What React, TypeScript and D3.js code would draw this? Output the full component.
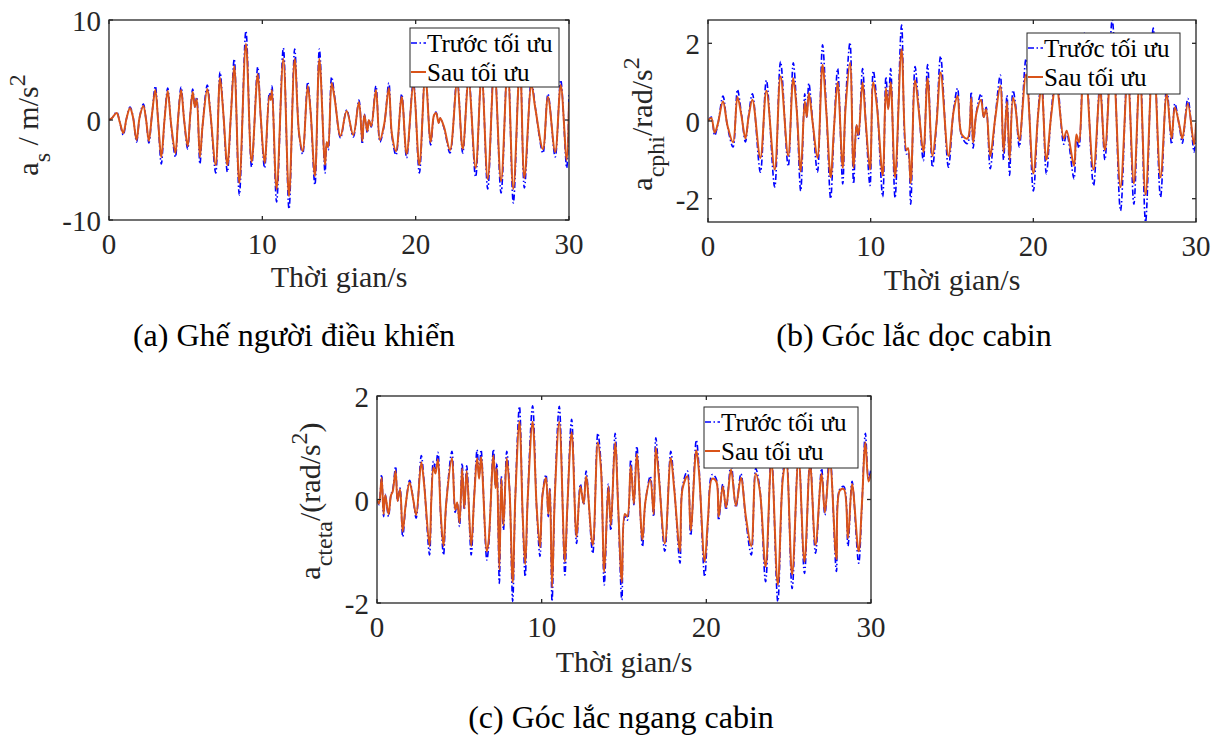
import React, { useEffect, useRef } from 'react';
import * as d3 from 'd3';

const FONT = "'Liberation Serif', 'DejaVu Serif', serif";
const BLUE = '#0000ff';
const ORANGE = '#d95319';
const AXIS = '#262626';

const xTicks = [0, 10, 20, 30];
const legendLabels = ['Trước tối ưu', 'Sau tối ưu'];
const xLabel = 'Thời gian/s';

// (a) driver seat acceleration, extrema
const timeA = [0, 0.2, 0.5, 0.7, 0.93, 1.15, 1.37, 1.55, 1.8, 2.0, 2.24, 2.42, 2.6, 2.8, 3.02, 3.2, 3.41, 3.62, 3.83, 4.05,
  4.33, 4.5, 4.7, 4.9, 5.13, 5.3, 5.46, 5.6, 5.72, 5.93, 6.1, 6.41, 6.6, 6.96, 7.24, 7.45, 7.72, 7.95, 8.17, 8.5,
  8.93, 9.3, 9.7, 9.9, 10.15, 10.46, 10.55, 10.63, 10.93, 11.37, 11.74, 12.11, 12.4, 12.63, 12.96, 13.15, 13.43, 13.72, 14.09, 14.2,
  14.3, 14.52, 14.72, 15.1, 15.5, 15.93, 16.3, 16.52, 16.65, 16.85, 16.95, 17.1, 17.41, 17.67, 17.95, 18.25, 18.45, 18.72, 19.09, 19.41,
  19.85, 20.24, 20.63, 20.98, 21.2, 21.33, 21.5, 21.6, 21.85, 22.24, 22.7, 23.07, 23.45, 23.91, 24.3, 24.7, 25.13, 25.57, 26.0, 26.37,
  26.8, 27.09, 27.55, 27.8, 28.3, 28.63, 29.1, 29.46, 29.85, 30];
const beforeA = [0, 0.2, 0.8, -0.2, -1.5, 0.2, 1.3, 0.5, -2.2, 0.3, 1.6, 0.0, -2.3, 0.5, 3.4, 0.0, -4.4, 0.0, 3.2, -0.5,
  -3.7, 0.0, 3.3, 0.0, -2.9, 0.5, 3.1, 1.3, 2.3, -4.4, -0.6, 3.5, 1.0, -5.3, 4.8, 0.8, -5.2, 0.5, 6.1, -7.5,
  8.9, -4.7, 5.3, 0.2, -4.8, 2.7, 2.2, 3.4, -8.2, 7.2, -8.9, 7.1, -1.5, -3.4, 3.8, 0.8, -6.5, 7.1, -5.3, -2.3,
  -3.0, 4.3, 2.3, -1.8, 1.0, -1.7, 2.0, -2.4, 0.6, -1.3, 0.0, -0.7, 3.4, -2.2, -0.5, 3.7, -1.6, -3.5, 2.6, -3.8,
  3.8, -5.3, 5.0, -2.5, 0.5, 0.8, -0.3, 0.2, -0.8, -3.3, 4.2, -3.3, 4.5, -5.7, 5.2, -6.9, 6.0, -7.3, 6.2, -8.3,
  6.5, -6.8, 4.0, 1.3, -3.3, 2.6, -3.7, 4.0, -4.8, 2.6];
const afterA = [0, 0.2, 0.7, -0.2, -1.3, 0.2, 1.2, 0.4, -2.0, 0.3, 1.4, 0.0, -2.1, 0.5, 3.0, 0.0, -3.7, 0.0, 2.9, -0.4,
  -3.3, 0.0, 3.0, 0.0, -2.6, 0.5, 2.8, 1.3, 2.1, -3.7, -0.6, 3.1, 0.9, -4.5, 4.2, 0.8, -4.5, 0.5, 5.4, -6.3,
  7.6, -4.2, 4.6, 0.2, -4.3, 2.4, 2.0, 3.0, -6.9, 6.1, -7.6, 6.1, -1.4, -3.1, 3.4, 0.8, -5.6, 6.1, -4.5, -2.2,
  -2.7, 3.7, 2.1, -1.6, 0.9, -1.5, 1.8, -2.1, 0.5, -1.1, 0.0, -0.6, 3.0, -2.0, -0.4, 3.2, -1.4, -3.1, 2.3, -3.4,
  3.4, -4.5, 4.4, -2.2, 0.5, 0.7, -0.3, 0.2, -0.7, -3.0, 3.7, -2.9, 3.9, -4.8, 4.5, -5.9, 5.2, -6.1, 5.3, -6.9,
  5.5, -5.8, 3.5, 1.2, -2.9, 2.3, -3.2, 3.5, -4.0, 1.8];

// (b) cabin pitch acceleration
const timeB = [0, 0.2, 0.41, 0.6, 0.92, 1.2, 1.54, 1.81, 2.05, 2.3, 2.5, 2.73, 3.22, 3.59, 4.1, 4.46, 4.93, 5.24, 5.45, 5.7,
  5.95, 6.07, 6.2, 6.45, 6.73, 7.04, 7.28, 7.54, 7.75, 7.97, 8.28, 8.45, 8.73, 8.95, 9.13, 9.25, 9.5, 9.7, 9.96, 10.16,
  10.38, 10.74, 10.94, 11.08, 11.23, 11.5, 11.9, 12.2, 12.3, 12.46, 12.73, 12.95, 13.24, 13.5, 13.8, 14.05, 14.3, 14.78, 15.1, 15.34,
  15.6, 15.95, 16.18, 16.3, 16.5, 16.78, 16.95, 17.1, 17.35, 17.65, 17.97, 18.17, 18.38, 18.54, 18.75, 18.9, 19.14, 19.55, 20.0, 20.3,
  20.5, 20.8, 21.1, 21.4, 21.87, 22.05, 22.5, 22.65, 22.8, 23.14, 23.7, 24.1, 24.4, 24.85, 25.36, 25.8, 26.18, 26.55, 26.9, 27.37,
  27.82, 28.2, 28.5, 28.7, 29.0, 29.16, 29.5, 29.88, 30];
const beforeB = [0, 0.1, -0.37, -0.1, 0.64, -0.15, -0.67, 0.81, 0.2, -0.54, 0.15, 0.7, -1.32, 1.05, -1.7, 1.53, -1.17, 1.5, 0.36, -1.8,
  0.7, 0.1, 0.97, -0.1, -1.32, 1.96, 0.25, -2.0, -0.2, 1.35, -1.62, 0.4, 2.02, -1.62, -0.1, -0.45, 1.35, -0.05, -1.66, 1.29,
  0.5, -1.95, 1.14, 0.35, 1.35, -1.98, 2.47, -0.85, -0.8, -2.14, 1.4, 0.4, -1.02, 1.45, -1.19, -0.05, 1.67, -1.19, 0.3, 0.84,
  -0.4, -0.58, 0.75, -0.7, 0.23, 0.7, 0.1, 0.35, -1.23, 0.06, 1.18, -1.0, 0.66, -1.4, 0.79, 0.45, -0.67, 1.6, -1.8, 0.25,
  1.2, -1.36, 0.2, 1.3, -0.6, -0.3, -1.49, -0.45, -0.7, 2.26, -1.66, 1.0, -1.0, 2.6, -2.31, 1.5, -2.14, 1.6, -2.6, 2.39,
  -1.96, 0.9, -0.6, 0.45, -0.2, -0.57, 0.58, -0.8, -0.07];
const afterB = [0, 0.08, -0.3, -0.08, 0.5, -0.12, -0.55, 0.62, 0.15, -0.45, 0.12, 0.55, -0.95, 0.78, -1.25, 1.15, -0.9, 1.1, 0.3, -1.3,
  0.5, 0.1, 0.72, -0.1, -0.95, 1.45, 0.2, -1.45, -0.15, 1.0, -1.2, 0.3, 1.5, -1.2, -0.1, -0.35, 1.0, -0.05, -1.25, 1.0,
  0.4, -1.4, 0.85, 0.3, 1.0, -1.45, 1.85, -0.75, -0.7, -1.6, 1.05, 0.3, -0.8, 1.1, -0.9, -0.05, 1.25, -0.9, 0.25, 0.65,
  -0.35, -0.45, 0.6, -0.55, 0.2, 0.55, 0.1, 0.3, -0.9, 0.05, 0.9, -0.8, 0.5, -1.0, 0.6, 0.35, -0.5, 1.2, -1.35, 0.2,
  0.9, -1.0, 0.15, 1.0, -0.45, -0.25, -1.15, -0.35, -0.55, 1.7, -1.25, 0.8, -0.75, 1.95, -1.7, 1.15, -1.6, 1.2, -1.9, 1.8,
  -1.45, 0.7, -0.45, 0.35, -0.15, -0.45, 0.45, -0.6, -0.05];

// (c) cabin roll acceleration
const timeC = [0, 0.12, 0.28, 0.4, 0.5, 0.7, 0.85, 0.95, 1.13, 1.25, 1.4, 1.56, 1.75, 1.98, 2.2, 2.38, 2.69, 2.85, 3.19, 3.3,
  3.43, 3.55, 3.7, 3.87, 4.04, 4.2, 4.55, 4.75, 4.87, 5.01, 5.17, 5.3, 5.45, 5.72, 5.9, 6.08, 6.2, 6.32, 6.67, 6.78,
  7.07, 7.2, 7.28, 7.43, 7.55, 7.68, 7.88, 8.05, 8.24, 8.4, 8.65, 8.85, 9.0, 9.15, 9.45, 9.7, 9.9, 10.05, 10.26, 10.4,
  10.5, 10.63, 10.8, 11.07, 11.41, 11.55, 11.82, 12.12, 12.35, 12.55, 12.7, 13.1, 13.41, 13.6, 13.8, 14.05, 14.2, 14.46, 14.65, 14.87,
  15.05, 15.2, 15.41, 15.6, 15.78, 16.12, 16.3, 16.6, 16.8, 16.93, 17.1, 17.48, 17.84, 18.05, 18.4, 18.55, 18.85, 19.05, 19.39, 19.55,
  19.9, 20.1, 20.35, 20.6, 20.75, 21.0, 21.2, 21.5, 21.8, 22.1, 22.4, 22.73, 23.0, 23.25, 23.6, 23.95, 24.34, 24.65, 24.85, 25.21,
  25.6, 25.96, 26.3, 26.63, 27.0, 27.2, 27.5, 27.9, 28.1, 28.35, 28.6, 28.85, 29.25, 29.45, 29.66, 29.85, 30];
const beforeC = [0, -0.1, 0.48, -0.33, 0.1, -0.33, 0.1, 0.18, 0.64, -0.03, 0.22, -0.72, -0.1, 0.37, 0.0, -0.36, 0.85, 0.38, -1.07, 0.0,
  0.74, 0.6, 0.91, -0.33, -1.07, -0.1, 0.93, -0.25, -0.07, -0.52, 0.7, -0.2, 0.65, -1.07, 0.05, 0.96, 0.45, 0.96, -1.17, -0.9,
  0.97, 0.25, 0.7, -1.62, 0.45, -0.59, 0.93, 0.2, -1.97, 0.05, 1.8, -0.39, -1.49, 0.0, 1.81, -0.2, -1.1, 0.1, 0.48, -0.33,
  0.22, -1.97, 0.1, 1.8, -1.46, -0.25, 1.55, -0.85, 0.3, -0.1, 0.55, -1.04, 1.28, 0.7, -1.65, 0.3, -0.6, 1.28, -0.2, -1.94,
  -0.33, -0.4, 0.77, -0.1, 1.03, -0.91, -0.05, 0.45, -0.33, 1.19, 0.6, -1.0, 0.93, 0.25, -1.23, 0.25, 0.55, -0.7, 1.15, 0.65,
  -1.49, -0.45, 0.48, 0.4, -0.4, 0.3, -0.2, 0.7, -0.15, 0.5, -0.4, -1.07, 0.6, 0.2, -1.59, 0.9, -1.97, 0.5, 0.9, -1.72,
  0.95, -1.43, 0.8, -1.04, 0.6, -0.3, 0.9, -1.39, 0.2, 0.25, -0.9, 0.35, -1.23, -0.1, 1.28, 0.4, 0.6];
const afterC = [0, -0.08, 0.42, -0.28, 0.08, -0.28, 0.08, 0.15, 0.55, -0.03, 0.2, -0.62, -0.08, 0.33, 0.0, -0.3, 0.72, 0.33, -0.9, 0.0,
  0.62, 0.5, 0.78, -0.28, -0.9, -0.08, 0.8, -0.2, -0.06, -0.45, 0.6, -0.17, 0.55, -0.9, 0.04, 0.8, 0.4, 0.82, -1.0, -0.8,
  0.85, 0.22, 0.6, -1.35, 0.4, -0.5, 0.8, 0.17, -1.6, 0.04, 1.5, -0.33, -1.25, 0.0, 1.5, -0.17, -0.92, 0.08, 0.42, -0.28,
  0.2, -1.7, 0.08, 1.5, -1.2, -0.2, 1.3, -0.72, 0.25, -0.08, 0.45, -0.88, 1.1, 0.6, -1.4, 0.25, -0.5, 1.1, -0.17, -1.6,
  -0.28, -0.33, 0.65, -0.08, 0.88, -0.78, -0.04, 0.38, -0.28, 1.0, 0.5, -0.85, 0.8, 0.2, -1.0, 0.2, 0.45, -0.6, 0.95, 0.55,
  -1.2, -0.38, 0.4, 0.35, -0.33, 0.25, -0.15, 0.58, -0.12, 0.42, -0.33, -0.9, 0.5, 0.17, -1.3, 0.75, -1.65, 0.42, 0.75, -1.45,
  0.8, -1.2, 0.68, -0.88, 0.5, -0.25, 0.75, -1.15, 0.17, 0.2, -0.75, 0.3, -1.0, -0.08, 1.1, 0.35, 0.5];

const panels = [
  {
    id: 'a', time: timeA, before: beforeA, after: afterA,
    yDomain: [-10, 10], yTicks: [-10, 0, 10],
    left: 109, top: 20, right: 569, bottom: 220,
    yLabel: { x: 38, cy: 125, base: 'a', sub: 's', rest: ' / m/s', sup: '2', tail: '' },
    legend: { x: 410, y: 28, w: 149, h: 59 },
    caption: { x: 294, y: 346, text: '(a) Ghế người điều khiển' },
    xLabelY: 287
  },
  {
    id: 'b', time: timeB, before: beforeB, after: afterB,
    yDomain: [-2.6, 2.6], yTicks: [-2, 0, 2],
    left: 708, top: 20, right: 1196, bottom: 222,
    yLabel: { x: 652, cy: 124, base: 'a', sub: 'cphi', rest: '/rad/s', sup: '2', tail: '' },
    legend: { x: 1027, y: 33, w: 153, h: 61 },
    caption: { x: 914, y: 346, text: '(b) Góc lắc dọc cabin' },
    xLabelY: 290
  },
  {
    id: 'c', time: timeC, before: beforeC, after: afterC,
    yDomain: [-2, 2], yTicks: [-2, 0, 2],
    left: 377, top: 396, right: 871, bottom: 603,
    yLabel: { x: 320, cy: 501, base: 'a', sub: 'cteta', rest: '/(rad/s', sup: '2', tail: ')' },
    legend: { x: 704, y: 407, w: 154, h: 61 },
    caption: { x: 621, y: 728, text: '(c) Góc lắc ngang cabin' },
    xLabelY: 672
  }
];

export default function App() {
  const svgRef = useRef(null);

  useEffect(() => {
    const svg = d3.select(svgRef.current);
    svg.selectAll('*').remove(); // Clear previous render
    const defs = svg.append('defs');

    panels.forEach(p => {
      const x = d3.scaleLinear().domain([0, 30]).range([p.left, p.right]);
      const y = d3.scaleLinear().domain(p.yDomain).range([p.bottom, p.top]);
      const g = svg.append('g').attr('font-family', FONT);

      defs.append('clipPath').attr('id', `clip-${p.id}`)
        .append('rect')
        .attr('x', p.left).attr('y', p.top)
        .attr('width', p.right - p.left).attr('height', p.bottom - p.top);

      const line = d3.line()
        .x((d, i) => x(p.time[i]))
        .y(d => y(d))
        .curve(d3.curveCatmullRom.alpha(0.5));

      const plot = g.append('g').attr('clip-path', `url(#clip-${p.id})`);
      plot.append('path')
        .datum(p.before)
        .attr('d', line)
        .attr('fill', 'none')
        .attr('stroke', BLUE)
        .attr('stroke-width', 1.6)
        .attr('stroke-dasharray', '6 2.5 1.5 2.5');
      plot.append('path')
        .datum(p.after)
        .attr('d', line)
        .attr('fill', 'none')
        .attr('stroke', ORANGE)
        .attr('stroke-width', 2);

      // box + inward ticks on all four sides
      g.append('rect')
        .attr('x', p.left).attr('y', p.top)
        .attr('width', p.right - p.left).attr('height', p.bottom - p.top)
        .attr('fill', 'none').attr('stroke', AXIS).attr('stroke-width', 1.3);

      xTicks.forEach(t => {
        g.append('line').attr('x1', x(t)).attr('x2', x(t)).attr('y1', p.bottom).attr('y2', p.bottom - 4)
          .attr('stroke', AXIS).attr('stroke-width', 1.3);
        g.append('line').attr('x1', x(t)).attr('x2', x(t)).attr('y1', p.top).attr('y2', p.top + 4)
          .attr('stroke', AXIS).attr('stroke-width', 1.3);
        g.append('text')
          .attr('x', x(t)).attr('y', p.bottom + 34)
          .attr('text-anchor', 'middle')
          .attr('font-size', 29).attr('fill', AXIS)
          .text(t);
      });

      p.yTicks.forEach(v => {
        g.append('line').attr('x1', p.left).attr('x2', p.left + 4).attr('y1', y(v)).attr('y2', y(v))
          .attr('stroke', AXIS).attr('stroke-width', 1.3);
        g.append('line').attr('x1', p.right).attr('x2', p.right - 4).attr('y1', y(v)).attr('y2', y(v))
          .attr('stroke', AXIS).attr('stroke-width', 1.3);
        g.append('text')
          .attr('x', p.left - 8).attr('y', y(v)).attr('dy', '0.38em')
          .attr('text-anchor', 'end')
          .attr('font-size', 29).attr('fill', AXIS)
          .text(v);
      });

      // x label
      g.append('text')
        .attr('x', (p.left + p.right) / 2).attr('y', p.xLabelY)
        .attr('text-anchor', 'middle')
        .attr('font-size', 30).attr('fill', AXIS)
        .text(xLabel);

      // y label with sub/superscripts
      const yl = g.append('text')
        .attr('transform', `translate(${p.yLabel.x},${p.yLabel.cy}) rotate(-90)`)
        .attr('text-anchor', 'middle')
        .attr('font-size', 30).attr('fill', AXIS);
      yl.append('tspan').text(p.yLabel.base);
      yl.append('tspan').attr('dy', 12).attr('font-size', 24).text(p.yLabel.sub);
      yl.append('tspan').attr('dy', -12).text(p.yLabel.rest);
      yl.append('tspan').attr('dy', -13).attr('font-size', 24).text(p.yLabel.sup);
      if (p.yLabel.tail) yl.append('tspan').attr('dy', 13).text(p.yLabel.tail);

      // legend
      const lg = g.append('g').attr('transform', `translate(${p.legend.x},${p.legend.y})`);
      lg.append('rect')
        .attr('width', p.legend.w).attr('height', p.legend.h)
        .attr('fill', 'white').attr('stroke', AXIS).attr('stroke-width', 1);
      legendLabels.forEach((label, i) => {
        const ly = 15 + i * 29;
        lg.append('line')
          .attr('x1', 1).attr('x2', 16).attr('y1', ly).attr('y2', ly)
          .attr('stroke', i === 0 ? BLUE : ORANGE)
          .attr('stroke-width', i === 0 ? 1.6 : 2)
          .attr('stroke-dasharray', i === 0 ? '6 2.5 1.5 2.5' : null);
        lg.append('text')
          .attr('x', 17).attr('y', ly + 9)
          .attr('font-size', 25).attr('fill', '#000')
          .text(label);
      });

      // caption
      g.append('text')
        .attr('x', p.caption.x).attr('y', p.caption.y)
        .attr('text-anchor', 'middle')
        .attr('font-size', 32).attr('fill', '#000')
        .text(p.caption.text);
    });
  }, []);

  return (
    <svg
      ref={svgRef}
      width={1222}
      height={737}
      style={{ position: 'absolute', left: 0, top: 0, background: 'white' }}
    />
  );
}
